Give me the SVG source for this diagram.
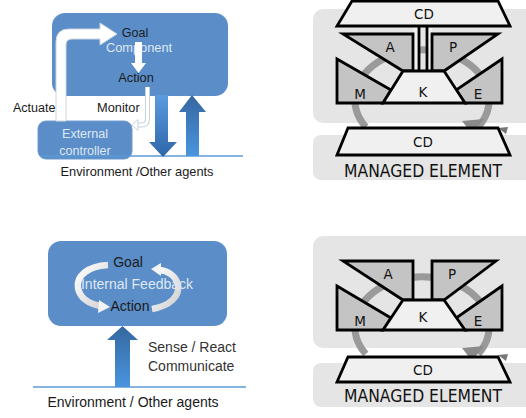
<svg xmlns="http://www.w3.org/2000/svg" width="526" height="418" viewBox="0 0 526 418">
<defs>
<style>
.lbl{font-family:"Liberation Sans",Arial,sans-serif;fill:#1a1a1a}
.lt{font-family:"Liberation Sans",Arial,sans-serif;fill:#dfe8f3}
.mk{font-family:"DejaVu Sans","Liberation Sans",sans-serif;fill:#111;text-anchor:middle}
.box{fill:#5b8ec8}
.sh{stroke:#000;stroke-width:2.8;stroke-linejoin:miter}
.g{fill:#c4c4c4}
.w{fill:#f0f0f0}
.bg{fill:#e5e5e5}
.arc{fill:none;stroke:#9a9a9a;stroke-width:7}
</style>
<linearGradient id="gDown" x1="0" y1="0" x2="0" y2="1"><stop offset="0" stop-color="#5b9be0"/><stop offset="1" stop-color="#2e66a8"/></linearGradient>
<linearGradient id="gUp" x1="0" y1="0" x2="0" y2="1"><stop offset="0" stop-color="#34679f"/><stop offset="1" stop-color="#4a95e0"/></linearGradient>
<linearGradient id="gFb" x1="0" y1="0" x2="1" y2="1"><stop offset="0" stop-color="#ffffff"/><stop offset="1" stop-color="#d0d0d0"/></linearGradient>
</defs>

<!-- Top-left panel -->
<g id="goal-component">
<rect class="box" x="52" y="13" width="176" height="83" rx="13"/>
<text class="lbl" x="135" y="37" font-size="12.5" text-anchor="middle">Goal</text>
<text class="lt" x="139" y="52" font-size="12.8" text-anchor="middle">Component</text>
<text class="lbl" x="136" y="82" font-size="12.8" text-anchor="middle">Action</text>
</g>
<g id="external-controller">
<rect class="box" x="38" y="121" width="94" height="38" rx="8" stroke="#6e9bd0" stroke-width="1"/>
<text class="lt" x="85" y="138" font-size="12.5" text-anchor="middle">External</text>
<text class="lt" x="85" y="155" font-size="12.5" text-anchor="middle">controller</text>
</g>
<g id="connectors-top-left">
<line x1="40" y1="156" x2="243" y2="156" stroke="#5b9bd5" stroke-width="1.5"/>
<path d="M56,121 L56,42 Q56,29 69,29 L100,29 L100,23 L117,34 L100,45 L100,39 L72,39 Q66,39 66,45 L66,121 Z" fill="#ffffff" stroke="#cdd6e0" stroke-width="1"/>
<path d="M135,42 L142,42 L142,63 L146,63 L138.5,73 L131,63 L135,63 Z" fill="#ffffff"/>
<path d="M147.5,87 L147.5,119 Q147.5,125 141,125 L136,125" fill="none" stroke="#c9d2dc" stroke-width="5"/>
<path d="M147.5,87 L147.5,119 Q147.5,125 141,125 L136,125" fill="none" stroke="#ffffff" stroke-width="3"/>
<path d="M138,119.5 L132,125 L138,130.5 Z" fill="#ffffff" stroke="#c9d2dc" stroke-width="1"/>
<path d="M155,95 L168,95 L168,142 L177,142 L163,157 L149,142 L155,142 Z" fill="url(#gDown)"/>
<path d="M192,95 L206,112 L199,112 L199,156 L186,156 L186,112 L179,112 Z" fill="url(#gUp)"/>
<text class="lbl" x="13" y="112" font-size="12.5">Actuate</text>
<text class="lbl" x="97" y="112" font-size="12.8">Monitor</text>
<text class="lbl" x="137" y="176" font-size="12.8" text-anchor="middle">Environment /Other agents</text>
</g>

<!-- Top-right panel -->
<g id="mapek-top">
<rect class="bg" x="313" y="9" width="225" height="114" rx="10"/>
<rect class="bg" x="313" y="135" width="225" height="45" rx="8"/>
<path class="arc" d="M365.8,127 A67 50 0 1 1 478.2,127"/>
<polygon points="462,121 484,119 472,134" fill="#8a8a8a"/>
<polygon points="498,128 508,127 506,134" fill="#777"/>
<rect x="413" y="26" width="6" height="45" class="w"/>
<rect x="427" y="26" width="5" height="45" class="w"/>
<polyline points="419,26 419,71" fill="none" class="sh"/>
<polyline points="427,26 427,71" fill="none" class="sh"/>
<polygon class="sh w" points="352,1 498,1 510,26 337,26"/>
<polygon class="sh g" points="343,34 413,34 413,71 403,71"/>
<polygon class="sh g" points="432,34 498,34 444,71 432,71"/>
<polygon class="sh g" points="337,59 391,90 383,103 337,103"/>
<polygon class="sh g" points="502,59 456,90 465,103 502,103"/>
<polygon class="sh w" points="403,71 444,71 465,103 383,103"/>
<polygon class="sh w" points="348,128 498,128 510,155 337,155"/>
<text class="mk" x="424" y="19" font-size="13.5">CD</text>
<text class="mk" x="390" y="52" font-size="13.5">A</text>
<text class="mk" x="453" y="52" font-size="13.5">P</text>
<text class="mk" x="360" y="99" font-size="13.5">M</text>
<text class="mk" x="423" y="97" font-size="13.5">K</text>
<text class="mk" x="478" y="99" font-size="13.5">E</text>
<text class="mk" x="423" y="147" font-size="13.5">CD</text>
<text class="mk" x="423" y="177" font-size="17" textLength="158" lengthAdjust="spacingAndGlyphs">MANAGED ELEMENT</text>
</g>

<!-- Bottom-left panel -->
<g id="goal-action">
<rect class="box" x="48" y="241" width="179" height="85" rx="13"/>
<path d="M108,265 C88,266 76,276 78,288 C80,298 89,304 100,306" fill="none" stroke="url(#gFb)" stroke-width="6.5"/>
<polygon points="99,300 110,307 98,313" fill="#f4f4f4"/>
<path d="M152,309 C170,306 180,296 178,285 C176,276 168,271 160,270" fill="none" stroke="url(#gFb)" stroke-width="6.5"/>
<polygon points="161,263 151,269 161,276" fill="#f4f4f4"/>
<text class="lbl" x="128" y="267" font-size="14" text-anchor="middle">Goal</text>
<text class="lt" x="137" y="289" font-size="14" text-anchor="middle">Internal Feedback</text>
<text class="lbl" x="130" y="311" font-size="14" text-anchor="middle">Action</text>
</g>
<g id="connectors-bottom-left">
<line x1="33" y1="387" x2="246" y2="387" stroke="#5b9bd5" stroke-width="1.5"/>
<path d="M122.5,326 L138,340 L130,340 L130,387 L115,387 L115,340 L107,340 Z" fill="url(#gUp)"/>
<text x="148" y="352" font-size="14" font-family="Liberation Sans, Arial, sans-serif" fill="#333">Sense / React</text>
<text x="148" y="371" font-size="14" font-family="Liberation Sans, Arial, sans-serif" fill="#333">Communicate</text>
<text class="lbl" x="133" y="407" font-size="14" text-anchor="middle">Environment / Other agents</text>
</g>

<!-- Bottom-right panel -->
<g id="mapek-bottom" transform="translate(0,227)">
<rect class="bg" x="313" y="9" width="225" height="112" rx="10"/>
<rect class="bg" x="313" y="136" width="225" height="44" rx="8"/>
<path class="arc" d="M365.8,127 A67 50 0 1 1 478.2,127"/>
<polygon points="462,121 484,119 472,134" fill="#8a8a8a"/>
<polygon points="498,128 508,127 506,134" fill="#777"/>
<polygon class="sh g" points="343,34 413,34 413,73 403,73"/>
<polygon class="sh g" points="432,34 496,34 444,73 432,73"/>
<polygon class="sh g" points="337,59 391,91 383,103 337,103"/>
<polygon class="sh g" points="502,59 456,91 465,103 502,103"/>
<polygon class="sh w" points="403,73 444,73 465,103 383,103"/>
<polygon class="sh w" points="348,130 498,130 510,155 337,155"/>
<text class="mk" x="388" y="52" font-size="13.5">A</text>
<text class="mk" x="452" y="52" font-size="13.5">P</text>
<text class="mk" x="360" y="99" font-size="13.5">M</text>
<text class="mk" x="423" y="95" font-size="13.5">K</text>
<text class="mk" x="478" y="99" font-size="13.5">E</text>
<text class="mk" x="423" y="148" font-size="13.5">CD</text>
<text class="mk" x="423" y="175" font-size="17" textLength="158" lengthAdjust="spacingAndGlyphs">MANAGED ELEMENT</text>
</g>
</svg>
